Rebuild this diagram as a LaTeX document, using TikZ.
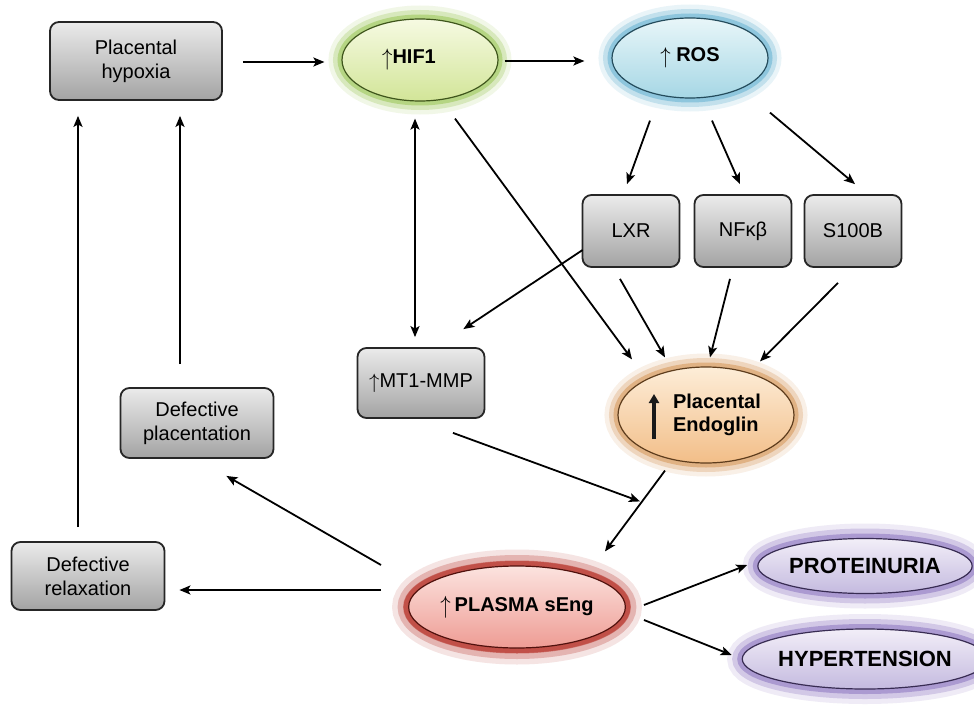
\documentclass[tikz,border=0pt]{standalone}
\usepackage{fontspec}
\usepackage{graphicx}
\setmainfont{Liberation Sans}
\usetikzlibrary{shapes.geometric,arrows.meta,calc}
\definecolor{hifglow}{HTML}{8DBF3F}\definecolor{hiftop}{HTML}{F6FAE2}\definecolor{hifbot}{HTML}{D2E598}
\definecolor{rosglow}{HTML}{4FA8CC}\definecolor{rostop}{HTML}{E8F6F9}\definecolor{rosbot}{HTML}{A6D7E5}
\definecolor{engglow}{HTML}{D08840}\definecolor{engtop}{HTML}{FDEDD8}\definecolor{engbot}{HTML}{F2BE88}
\definecolor{sengglow}{HTML}{B3261C}\definecolor{sengtop}{HTML}{FCE3DF}\definecolor{sengbot}{HTML}{EE9C94}
\definecolor{purglow}{HTML}{7C62B8}\definecolor{purtop}{HTML}{F2EEF8}\definecolor{purbot}{HTML}{C4BADF}
\newcommand{\thinup}{\ensuremath{\uparrow}}
\begin{document}
\begin{tikzpicture}[x=1pt,y=-1pt,
  font=\fontsize{20}{24}\selectfont,
  gbox/.style={rectangle, rounded corners=9pt, draw=black!85, line width=1.8pt,
     top color=black!8, bottom color=black!36, align=center, inner sep=0pt},
  glowell/.style n args={4}{ellipse, inner sep=0pt, align=center,
     font=\fontsize{20}{24}\selectfont\bfseries,
     preaction={draw=#1, line width=#4*3, opacity=0.12},
     preaction={draw=#1, line width=#4*2, opacity=0.25},
     preaction={draw=#1, line width=#4, opacity=0.45},
     top color=#2, bottom color=#3, draw=#1!45!black, line width=1.2pt},
  arr/.style={draw=black, line width=1.8pt, -{Stealth[length=11pt,width=9pt,inset=2.5pt]}},
  darr/.style={draw=black, line width=1.8pt, {Stealth[length=11pt,width=9pt,inset=2.5pt]}-{Stealth[length=11pt,width=9pt,inset=2.5pt]}},
  boldup/.style={draw=black!90, line width=3.2pt, -{Triangle[length=9pt,width=10pt]}},
]
\useasboundingbox (0,0) rectangle (974,706);
\fill[white] (0,0) rectangle (974,706);

% nodes
\node[gbox, minimum width=172, minimum height=78] (hyp) at (136,61) {Placental\\hypoxia};
\node[glowell={hifglow}{hiftop}{hifbot}{9pt}, minimum width=156, minimum height=82] (hif) at (420,60)
  {\raisebox{-2pt}{\scalebox{1}[1.15]{\thinup}}HIF1\hspace{22pt}};
\node[glowell={rosglow}{rostop}{rosbot}{9pt}, minimum width=156, minimum height=80] (ros) at (690,58)
  {\raisebox{-2pt}{\scalebox{1}[1.1]{\thinup}} ROS};
\node[gbox, minimum width=97, minimum height=72] (lxr) at (631,231) {LXR};
\node[gbox, minimum width=97, minimum height=72] (nfk) at (743,231) {NFκβ};
\node[gbox, minimum width=97, minimum height=72] (s100) at (853,231) {S100B};
\node[gbox, minimum width=127, minimum height=70] (mmp) at (421,383) {\raisebox{-1pt}{\thinup}MT1-MMP};
\node[glowell={engglow}{engtop}{engbot}{9pt}, minimum width=176, minimum height=96] (eng) at (706,415)
  {\hspace{22pt}\begin{tabular}{@{}l@{}}Placental\\[-1pt]Endoglin\end{tabular}};
\draw[boldup] ($(eng.center)+(-52,24)$) -- ($(eng.center)+(-52,-21)$);
\node[gbox, minimum width=153, minimum height=70] (dplac) at (197,423) {Defective\\placentation};
\node[gbox, minimum width=153, minimum height=68] (drel) at (88,576) {Defective\\relaxation};
\node[glowell={sengglow}{sengtop}{sengbot}{11pt}, minimum width=210, minimum height=82,
  preaction={draw=sengglow, line width=10pt, opacity=0.45}] (seng) at (517,607)
  {\raisebox{-2pt}{\scalebox{1}[1.2]{\mdseries\thinup}}\hspace{4pt}PLASMA sEng};
\node[glowell={purglow}{purtop}{purbot}{10pt}, minimum width=200, minimum height=55,
  font=\fontsize{22}{24}\selectfont\bfseries] (prot) at (865,566) {PROTEINURIA};
\node[glowell={purglow}{purtop}{purbot}{10pt}, minimum width=200, minimum height=60,
  font=\fontsize{22}{24}\selectfont\bfseries] (hyper) at (865,659) {HYPERTENSION};

% connectors
\draw[arr] ($(hyp.east)+(20,1)$) -- ($(hif.west)+(-17,2)$);
\draw[arr] ($(hif.east)+(6,1)$) -- ($(ros.west)+(-27,3)$);
\draw[arr] ($(ros.south)+(-40,22)$) -- ($(lxr.north)+(-4,-10)$);
\draw[arr] ($(ros.south)+(22,22)$) -- ($(nfk.north)+(-3,-10)$);
\draw[arr] ($(ros.south)+(80,14)$) -- ($(s100.north)+(2,-10)$);
\draw[darr] ($(hif.south)+(-5,17)$) -- ($(mmp.north)+(-6,-10)$);
\draw[arr] ($(hif.south)+(35,17)$) -- ($(eng.north)+(-74,-7)$);
\draw[arr] ($(lxr.west)+(1,19)$) -- ($(mmp.north east)+(-22,-18)$);
\draw[arr] ($(lxr.south)+(-11,11)$) -- ($(eng.north)+(-41,-9)$);
\draw[arr] ($(nfk.south)+(-13,11)$) -- ($(eng.north)+(4,-9)$);
\draw[arr] ($(s100.south)+(-15,15)$) -- ($(eng.north)+(54,-5)$);
\draw[arr] ($(mmp.south)+(32,14)$) -- ($(seng.north)+(123,-64)$);
\draw[arr] ($(eng.south)+(-41,7)$) -- ($(seng.north)+(88,-14)$);
\draw[arr] ($(seng.west)+(-27,-42)$) -- ($(dplac.south east)+(-48,17)$);
\draw[arr] ($(seng.west)+(-27,-17)$) -- ($(drel.east)+(14,14)$);
\draw[arr] ($(dplac.north)+(-17,-23)$) -- ($(hyp.south)+(44,15)$);
\draw[arr] ($(drel.north)+(-10,-14)$) -- ($(hyp.south)+(-58,15)$);
\draw[arr] ($(seng.east)+(18,-2)$) -- ($(prot.west)+(-10,-1)$);
\draw[arr] ($(seng.east)+(18,13)$) -- ($(hyper.west)+(-10,-4)$);
\end{tikzpicture}
\end{document}
